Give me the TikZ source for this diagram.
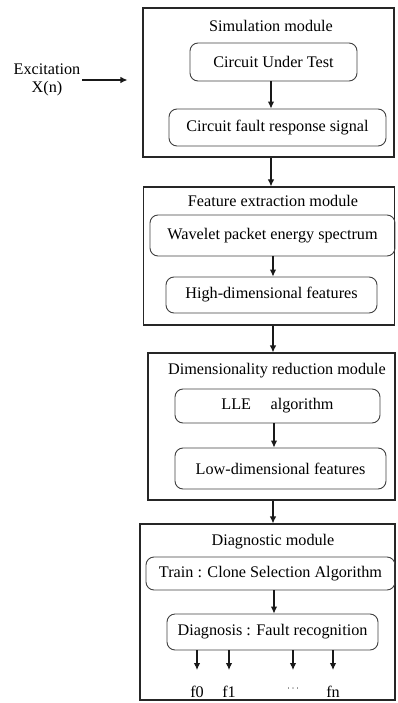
\documentclass[tikz,border=0pt]{standalone}
\usepackage{fontspec}
\setmainfont{Liberation Serif}
\usetikzlibrary{arrows.meta}
\begin{document}
\begin{tikzpicture}[x=1pt,y=-1pt,
  every node/.style={font=\fontsize{16.2}{18.5}\selectfont, inner sep=0pt},
  outerbox/.style={draw=black!85, line width=1.1pt, rectangle},
  innerbox/.style={draw=black!75, line width=0.9pt, rounded corners=8pt, rectangle},
  arr/.style={-{Latex[length=7pt,width=6.5pt]}, line width=1.1pt, draw=black!90}]
\useasboundingbox (0,0) rectangle (398,703);

% module 1
\node[outerbox, minimum width=251pt, minimum height=149pt] (m1) at (268.5,82.5) {};
\node (t1) at (271,26) {Simulation module};
\node[innerbox, minimum width=167pt, minimum height=38pt] (c1) at (273.5,62) {Circuit Under Test};
\node[innerbox, minimum width=217pt, minimum height=37pt] (c2) at (277.5,127.5) {Circuit fault response signal};
\draw[arr] (c1.south -| t1) -- (c2.north -| t1);

% excitation
\node[align=center] (exc) at (47,80) {Excitation\\X(n)};
\draw[arr] ([xshift=2pt]exc.east) -- ([xshift=-15pt]m1.west |- exc.east);

% module 2
\node[outerbox, minimum width=251pt, minimum height=138pt] (m2) at (269,256) {};
\node (t2) at (273,201) {Feature extraction module};
\node[innerbox, minimum width=245pt, minimum height=41pt] (w) at (272.5,235.5) {Wavelet packet energy spectrum};
\node[innerbox, minimum width=211pt, minimum height=36pt] (h) at (271.5,295) {High-dimensional features};
\draw[arr] (w.south -| t2) -- (h.north -| t2);
\draw[arr] (m1.south -| t1) -- (m2.north -| t1);

% module 3
\node[outerbox, minimum width=247pt, minimum height=147pt] (m3) at (271.5,426.5) {};
\node (t3) at (277,371) {Dimensionality reduction module};
\node[innerbox, minimum width=205pt, minimum height=34pt] (lle) at (277.5,406) {LLE\hspace{1.2em}algorithm};
\node[innerbox, minimum width=211pt, minimum height=41pt] (low) at (280.5,468.5) {Low-dimensional features};
\coordinate (x3) at (274,0);
\draw[arr] (lle.south -| x3) -- (low.north -| x3);
\draw[arr] (m2.south -| t2) -- (m3.north -| t2);

% module 4
\node[outerbox, minimum width=255pt, minimum height=176pt] (m4) at (267.5,612) {};
\node (t4) at (273,542) {Diagnostic module};
\node[innerbox, minimum width=249pt, minimum height=33pt] (tr) at (270.5,573.5) {Train : Clone Selection Algorithm};
\node[innerbox, minimum width=211pt, minimum height=36pt] (dg) at (272.5,632) {Diagnosis : Fault recognition};
\draw[arr] (tr.south -| x3) -- (dg.north -| x3);
\draw[arr] (m3.south -| t2) -- (m4.north -| t2);

% outputs
\coordinate (oy) at (0,670);
\node (f0) at (197,692) {f0};
\node (f1) at (229,692) {f1};
\node (fd) at (293,690) {\fontsize{9}{10}\selectfont\textperiodcentered\,\textperiodcentered\,\textperiodcentered};
\node (fn) at (333,692) {fn};
\foreach \f in {f0,f1,fd,fn}{
  \draw[arr] (dg.south -| \f) -- (\f |- oy);
}
\end{tikzpicture}
\end{document}
